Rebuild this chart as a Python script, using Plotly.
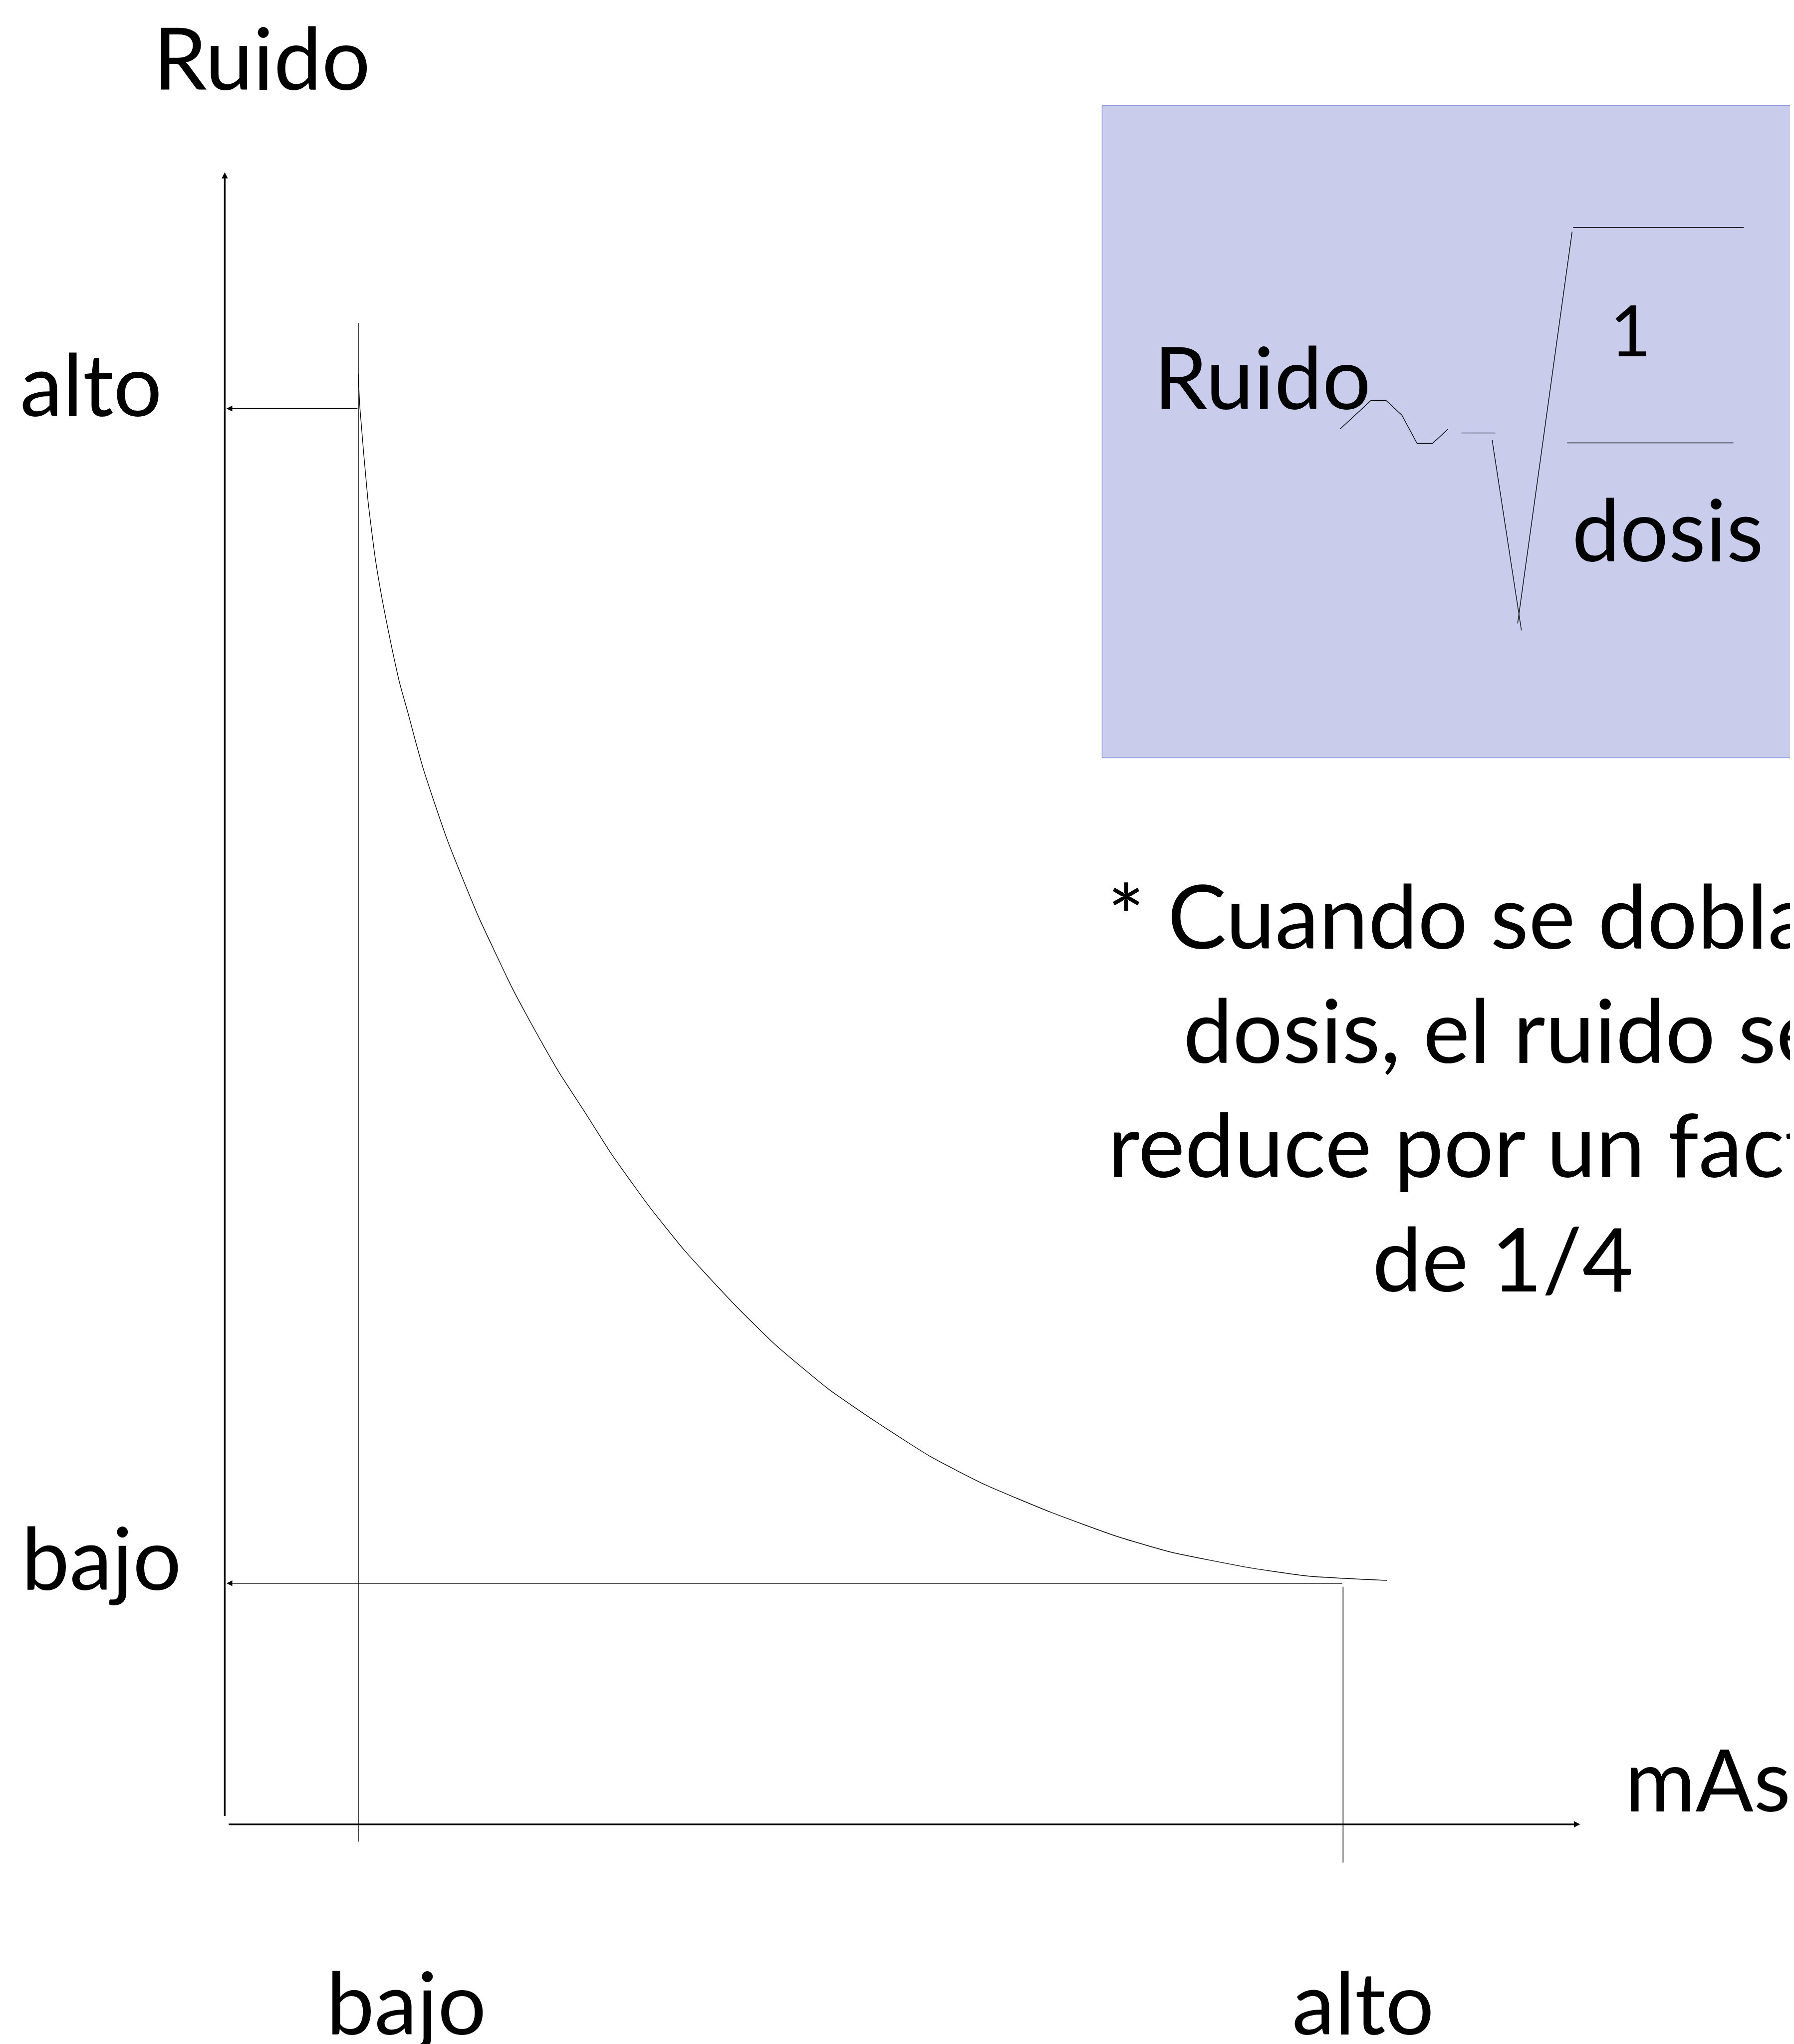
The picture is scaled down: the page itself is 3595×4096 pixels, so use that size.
import plotly.graph_objects as go

# curva ruido vs mAs (unidades del esquema: ejes de 0 a 10)
mas_curve = [0.985, 0.997, 1.056, 1.112, 1.174, 1.232, 1.291, 1.350, 1.409, 1.467,
             1.526, 1.643, 1.761, 1.878, 1.999, 2.116, 2.234, 2.351, 2.469, 2.641,
             2.853, 3.128, 3.394, 3.748, 4.058, 4.457, 4.810, 5.209, 5.607, 6.095,
             6.582, 6.980, 7.556, 7.998, 8.574]
ruido_curve = [8.780, 8.576, 8.018, 7.654, 7.360, 7.124, 6.906, 6.733, 6.551, 6.383,
               6.235, 5.956, 5.713, 5.483, 5.271, 5.070, 4.888, 4.715, 4.548, 4.331,
               4.058, 3.744, 3.472, 3.157, 2.906, 2.633, 2.434, 2.225, 2.057, 1.889,
               1.743, 1.648, 1.554, 1.502, 1.476]

mas_levels = [0.985, 8.251]
mas_labels = ['bajo', 'alto']
guide_top = [9.088, 1.438]
guide_bottom = [-0.105, -0.232]

ruido_levels = [8.570, 1.459]
ruido_labels = ['alto', 'bajo']

axis_len = 10
note_lines = ['* Cuando se dobla la', 'dosis, el ruido se', 'reduce por un factor', 'de 1/4']

FONT = 'Lato'
FS = 172

fig = go.Figure()

fig.add_scatter(x=mas_curve, y=ruido_curve, mode='lines',
                line=dict(color='black', width=1.4, shape='spline', smoothing=0.5))
for x, top, bottom in zip(mas_levels, guide_top, guide_bottom):
    fig.add_scatter(x=[x, x], y=[top, bottom], mode='lines',
                    line=dict(color='black', width=1.6))


def arrow(x, y, ax, ay, width, size):
    fig.add_annotation(x=x, y=y, ax=ax, ay=ay, xref='x', yref='y', axref='x', ayref='y',
                       text='', showarrow=True, arrowhead=2, arrowwidth=width,
                       arrowsize=size, arrowcolor='black', standoff=0, startstandoff=0)


# ejes
arrow(0, axis_len, 0, 0.046, 3.3, 0.75)
arrow(axis_len, 0, 0.024, 0, 3.3, 0.75)
# guias horizontales hacia el eje de ruido
for lvl, mx in zip(ruido_levels, mas_levels):
    arrow(0.013, lvl, mx, lvl, 1.6, 1.45)


def label(x, y, text, size=FS, **kw):
    fig.add_annotation(x=x, y=y, xref='x', yref='y', text=text, showarrow=False,
                       xanchor='center', yanchor='middle',
                       font=dict(family=FONT, size=size, color='black'), **kw)


label(0.2716, 10.70, 'Ruido')
label(10.94, 0.280, 'mAs')
for x, t in zip([1.340, 8.400], mas_labels):
    label(x, -1.07, t)
for x, y, t in zip([-0.988, -0.908], [8.724, 1.621], ruido_labels):
    label(x, y, t)

# recuadro con la formula
fig.add_shape(type='rect', xref='x', yref='y', x0=6.473, x1=12.5, y0=6.456, y1=10.403,
              fillcolor='#C9CDEB', line=dict(color='#8A93DD', width=1.5), layer='below')
formula = [
    'M 8.228,8.445 L 8.457,8.619 L 8.568,8.619 L 8.685,8.530 L 8.797,8.359 L 8.911,8.359 L 9.025,8.445',
    'M 9.125,8.422 L 9.375,8.422',
    'M 9.351,8.378 L 9.567,7.227',
    'M 9.539,7.269 L 9.941,9.641',
    'M 9.948,9.666 L 11.207,9.666',
    'M 9.904,8.362 L 11.131,8.362',
]
for p in formula:
    fig.add_shape(type='path', xref='x', yref='y', path=p,
                  line=dict(color='black', width=1.4))
label(7.654, 8.768, 'Ruido')
label(10.369, 9.052, '1', size=142)
label(10.648, 7.846, 'dosis')

for y, t in zip([5.507, 4.816, 4.124, 3.433], note_lines):
    label(9.431, y, t, size=177)

fig.update_layout(
    width=3595, height=4096,
    margin=dict(l=0, r=0, t=0, b=0),
    paper_bgcolor='white', plot_bgcolor='white',
    showlegend=False,
    xaxis=dict(visible=False, range=[-1.6288, 11.6075]),
    yaxis=dict(visible=False, range=[-1.3538, 11.0186]),
)

fig.write_html('out.html')
